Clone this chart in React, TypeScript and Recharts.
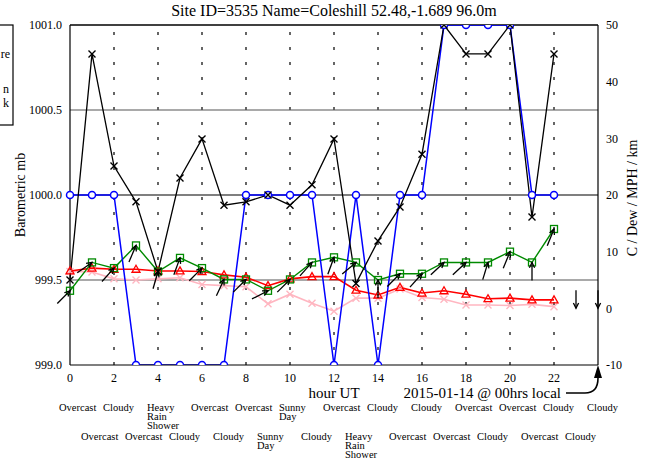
import { ComposedChart, Line, Scatter, XAxis, YAxis, ReferenceLine, Customized } from 'recharts'

// hours 0..24 (UT)
const hours = [0, 1, 2, 3, 4, 5, 6, 7, 8, 9, 10, 11, 12, 13, 14, 15, 16, 17, 18, 19, 20, 21, 22, 23, 24]
const hourTicks = [0, 2, 4, 6, 8, 10, 12, 14, 16, 18, 20, 22]
const gridHours = [2, 4, 6, 8, 10, 12, 14, 16, 18, 20, 22]
const pressureTicks = [999, 999.5, 1000, 1000.5, 1001]
const rightTicks = [-10, 0, 10, 20, 30, 40, 50]

// series, hours 0..22
const pressure = [999.5, 1000.83, 1000.17, 999.96, 999.55, 1000.1, 1000.33, 999.94, 999.96, 1000.0, 999.94, 1000.06, 1000.33, 999.48, 999.73, 999.93, 1000.24, 1001.0, 1000.83, 1000.83, 1001.0, 999.87, 1000.83]
const visibility = [20, 20, 20, -10, -10, -10, -10, -10, 20, 20, 20, 20, -10, 20, -10, 20, 20, 50, 50, 50, 50, 20, 20]
const windSpeed = [3.1, 8.1, 7.1, 11.1, 6.5, 8.9, 7.1, 5.1, 5.1, 3.1, 5.1, 8.1, 9.0, 8.1, 5.0, 6.1, 6.1, 8.1, 8.1, 8.1, 10.0, 8.1, 14.0]
const temperature = [6.6, 7.1, 6.9, 6.9, 6.6, 6.6, 6.5, 5.9, 5.5, 4.0, 5.2, 5.6, 5.6, 3.2, 2.35, 3.7, 2.7, 3.1, 2.5, 1.7, 1.8, 1.5, 1.5]
const dewPoint = [6.5, 6.4, 5.2, 5.0, 5.2, 5.4, 4.2, 4.0, 3.8, 0.8, 2.5, 0.9, -0.5, 1.8, 1.8, 3.4, 1.9, 1.6, 0.6, 0.6, 0.5, 0.7, 0.3]
// wind direction (degrees, blowing from), hours 0..24
const windDir = [225, 235, 222, 203, 196, 200, 225, 205, 225, 243, 225, 222, 200, 230, 180, 225, 222, 227, 227, 197, 202, 180, 202, 0, 0]

const weather = [
  'Overcast', 'Overcast', 'Cloudy', 'Overcast', 'Heavy Rain Shower', 'Cloudy', 'Overcast', 'Cloudy', 'Overcast',
  'Sunny Day', 'Sunny Day', 'Cloudy', 'Overcast', 'Heavy Rain Shower', 'Cloudy', 'Overcast', 'Cloudy', 'Overcast',
  'Overcast', 'Cloudy', 'Overcast', 'Overcast', 'Cloudy', 'Cloudy', 'Cloudy',
]

const data = hours.map((h, i) => ({
  hour: h,
  pressure: pressure[i] ?? null,
  vis: visibility[i] ?? null,
  wind: windSpeed[i] ?? null,
  temp: temperature[i] ?? null,
  dew: dewPoint[i] ?? null,
  arrowAt: windSpeed[i] ?? 0,
  dir: windDir[i],
}))

const FONT = '"Liberation Serif", "DejaVu Serif", serif'
const tickStyle = { fill: '#000', fontSize: 12, fontFamily: FONT }

const Cross = ({ cx, cy, color }: any) =>
  cx == null || cy == null ? <g /> : (
    <path d={`M${cx - 3.5},${cy - 3.5}L${cx + 3.5},${cy + 3.5}M${cx - 3.5},${cy + 3.5}L${cx + 3.5},${cy - 3.5}`} stroke={color} strokeWidth={1.4} fill="none" />
  )

const Circle = ({ cx, cy }: any) =>
  cx == null || cy == null ? <g /> : (
    <circle cx={cx} cy={cy} r={3.5} stroke="#0000ff" strokeWidth={1.5} fill="#fff" />
  )

const Square = ({ cx, cy }: any) =>
  cx == null || cy == null ? <g /> : (
    <rect x={cx - 3.5} y={cy - 3.5} width={7} height={7} stroke="#008a00" strokeWidth={1.3} fill="none" />
  )

const Triangle = ({ cx, cy }: any) =>
  cx == null || cy == null ? <g /> : (
    <path d={`M${cx},${cy - 4}L${cx - 4},${cy + 3}L${cx + 4},${cy + 3}Z`} stroke="#ff0000" strokeWidth={1.3} fill="none" />
  )

// arrow pointing downwind, tip at the wind-speed point
const WindArrow = (props: any) => {
  const { cx, cy, payload } = props
  if (cx == null || cy == null) return <g />
  const a = ((payload.dir + 180) * Math.PI) / 180
  const ux = Math.sin(a)
  const uy = -Math.cos(a)
  const L = 18
  const tx = cx - ux * L
  const ty = cy - uy * L
  const h = 6
  const s = 0.45
  const b1x = cx - h * (ux * Math.cos(s) - uy * Math.sin(s))
  const b1y = cy - h * (uy * Math.cos(s) + ux * Math.sin(s))
  const b2x = cx - h * (ux * Math.cos(-s) - uy * Math.sin(-s))
  const b2y = cy - h * (uy * Math.cos(-s) + ux * Math.sin(-s))
  return (
    <g>
      <line x1={tx} y1={ty} x2={cx} y2={cy} stroke="#000" strokeWidth={1.3} />
      <path d={`M${b1x},${b1y}L${cx},${cy}L${b2x},${b2y}`} stroke="#000" strokeWidth={1.3} fill="none" />
    </g>
  )
}

const WeatherTick = ({ x, payload }: any) => {
  const h = payload.value
  const words = (weather[h] ?? '').split(' ')
  const y0 = h % 2 === 0 ? 411 : 440
  return (
    <text x={x - 11} y={y0} fontSize={10.5} fontFamily={FONT} fill="#000" textAnchor="start">
      {words.map((w: string, i: number) => (
        <tspan key={i} x={x - 11} dy={i === 0 ? 0 : 9}>{w}</tspan>
      ))}
    </text>
  )
}

const Annotations = () => (
  <g fontFamily={FONT} fill="#000">
    <text x={334} y={16} fontSize={16} textAnchor="middle">Site ID=3535 Name=Coleshill 52.48,-1.689 96.0m</text>
    <text x={25} y={195} fontSize={14} textAnchor="middle" transform="rotate(-90 25 195)">Barometric mb</text>
    <text x={637} y={198} fontSize={14} textAnchor="middle" transform="rotate(-90 637 198)">C / Dew / MPH / km</text>
    <text x={334} y={398} fontSize={15} textAnchor="middle">hour UT</text>
    <text x={561} y={398} fontSize={15} textAnchor="end">2015-01-14 @ 00hrs local</text>
    <path d="M566,393 L585,393 Q598,393 598,378" stroke="#000" strokeWidth={1.6} fill="none" />
    <path d="M598,365 L594,378 L602,378 Z" fill="#000" />
    <rect x={-60} y={25} width={73} height={100} stroke="#000" strokeWidth={1.2} fill="none" />
    <text x={10} y={58} fontSize={12} textAnchor="end">re</text>
    <text x={9} y={93} fontSize={12} textAnchor="end">n</text>
    <text x={9} y={107} fontSize={12} textAnchor="end">k</text>
  </g>
)

export default function App() {
  return (
    <div style={{ position: 'absolute', left: 0, top: 0, background: '#fff', fontFamily: FONT }}>
      <ComposedChart
        width={650}
        height={468}
        data={data}
        margin={{ top: 25, right: 8, bottom: 13, left: 8 }}
        style={{ fontFamily: FONT }}
      >
        <XAxis
          xAxisId="main"
          dataKey="hour"
          type="number"
          domain={[0, 24]}
          ticks={hourTicks}
          interval={0}
          height={30}
          stroke="#000"
          strokeWidth={1.2}
          tickLine={false}
          tick={tickStyle}
        />
        <XAxis
          xAxisId="wx"
          dataKey="hour"
          type="number"
          domain={[0, 24]}
          ticks={hours}
          interval={0}
          height={60}
          axisLine={false}
          tickLine={false}
          tick={<WeatherTick />}
        />
        <YAxis
          yAxisId="left"
          domain={[999, 1001]}
          ticks={pressureTicks}
          allowDataOverflow
          width={62}
          stroke="#000"
          strokeWidth={1.2}
          tickLine={false}
          tick={tickStyle}
          tickFormatter={(v: number) => v.toFixed(1)}
        />
        <YAxis
          yAxisId="right"
          orientation="right"
          domain={[-10, 50]}
          ticks={rightTicks}
          allowDataOverflow
          width={44}
          stroke="#000"
          strokeWidth={1.2}
          tickLine={false}
          tick={tickStyle}
        />

        {gridHours.map((h) => (
          <ReferenceLine key={h} x={h} xAxisId="main" yAxisId="left" stroke="#000" strokeWidth={1.2} strokeDasharray="3 12" />
        ))}
        <ReferenceLine y={999.5} xAxisId="main" yAxisId="left" stroke="#555" strokeWidth={1.2} />
        <ReferenceLine y={1000} xAxisId="main" yAxisId="left" stroke="#000" strokeWidth={1.2} />
        <ReferenceLine y={1000.5} xAxisId="main" yAxisId="left" stroke="#555" strokeWidth={1.2} />
        <ReferenceLine y={1001} xAxisId="main" yAxisId="left" stroke="#000" strokeWidth={1.4} />

        <Line xAxisId="main" yAxisId="right" dataKey="dew" type="linear" stroke="#ffb6c1" strokeWidth={1.6}
          dot={(p: any) => <Cross {...p} key={p.index} color="#ffb6c1" />} isAnimationActive={false} />
        <Line xAxisId="main" yAxisId="right" dataKey="temp" type="linear" stroke="#ff0000" strokeWidth={1.6}
          dot={(p: any) => <Triangle {...p} key={p.index} />} isAnimationActive={false} />
        <Line xAxisId="main" yAxisId="right" dataKey="wind" type="linear" stroke="#008a00" strokeWidth={1.4}
          dot={(p: any) => <Square {...p} key={p.index} />} isAnimationActive={false} />
        <Line xAxisId="main" yAxisId="right" dataKey="vis" type="linear" stroke="#0000ff" strokeWidth={1.5}
          dot={(p: any) => <Circle {...p} key={p.index} />} isAnimationActive={false} />
        <Line xAxisId="main" yAxisId="left" dataKey="pressure" type="linear" stroke="#000" strokeWidth={1.3}
          dot={(p: any) => <Cross {...p} key={p.index} color="#000" />} isAnimationActive={false} />
        <Scatter xAxisId="main" yAxisId="right" dataKey="arrowAt" shape={<WindArrow />} isAnimationActive={false} />

        <Customized component={<Annotations />} />
      </ComposedChart>
    </div>
  )
}
